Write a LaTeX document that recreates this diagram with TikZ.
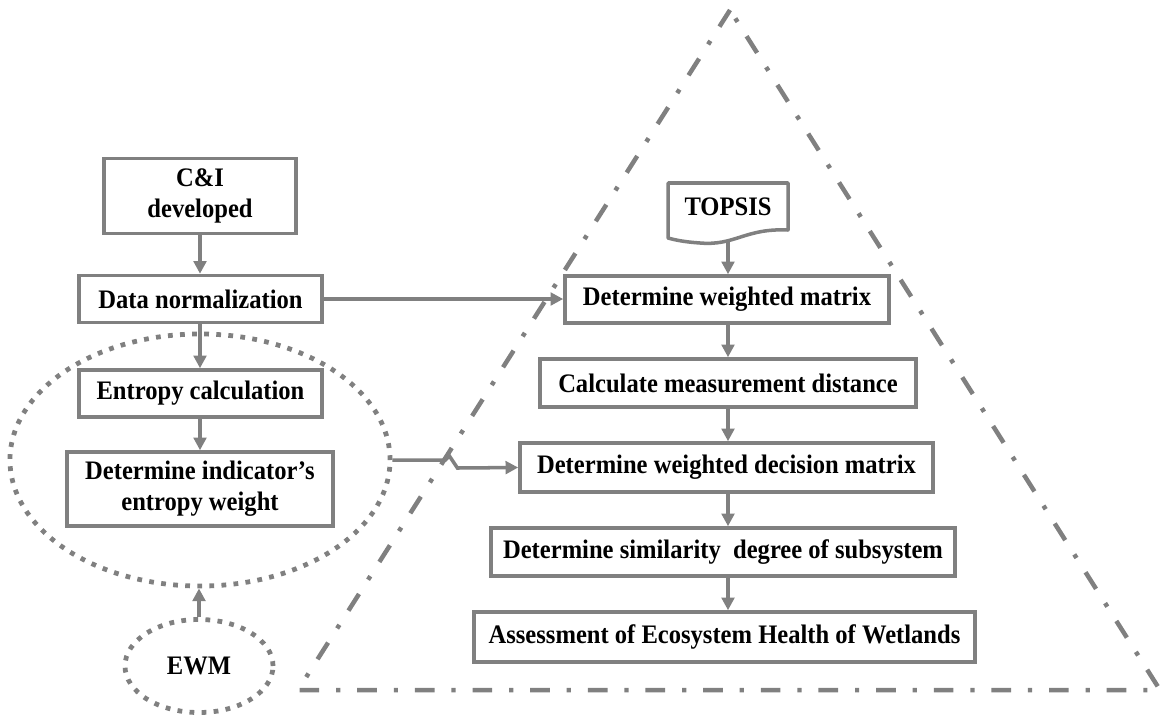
\documentclass[tikz,border=0pt]{standalone}
\usepackage{fontspec}
\setmainfont{Liberation Serif}
\newfontfamily\boxfont[FakeStretch=0.92]{Liberation Serif}
\usetikzlibrary{arrows.meta,shapes.geometric,calc}
\definecolor{lineg}{RGB}{128,128,128}
\tikzset{
  boxtext/.style={font=\boxfont\fontsize{19}{22}\selectfont\bfseries, text=black},
  stepbox/.style={draw=lineg, line width=2.5pt, rectangle, inner sep=0pt, align=center, boxtext},
  flow/.style={draw=lineg, line width=2.5pt, -{Triangle[length=9pt,width=9pt]}},
  dotring/.style={draw=lineg, line width=3.4pt, ellipse, inner sep=0pt,
    dash pattern=on 3.4pt off 5.2pt},
  frame/.style={draw=lineg, line width=3.2pt, dash pattern=on 14pt off 12pt on 3pt off 12pt}
}
\begin{document}
\begin{tikzpicture}[x=0.025cm,y=-0.025cm]
\useasboundingbox (0,0) rectangle (1162,717);

% TOPSIS triangle frame
\coordinate (apex) at (730,10);
\coordinate (bl) at (298,690);
\coordinate (br) at (1160,690);
\draw[frame] (apex) -- (bl) -- (br) -- cycle;

% EWM side
\node[stepbox, minimum width=4.8cm, minimum height=1.875cm] (ci) at (200,196) {C\&I\\developed};
\node[stepbox, minimum width=6.075cm, minimum height=1.175cm] (dn) at (200.5,299) {Data normalization};
\node[stepbox, minimum width=6.075cm, minimum height=1.175cm] (ec) at (200.5,393.5) {Entropy calculation};
\node[stepbox, minimum width=6.65cm, minimum height=1.85cm] (det) at (200,489) {Determine indicator’s\\entropy weight};
\node[dotring, minimum width=9.5cm, minimum height=6.3cm] (ring) at (200,460) {};
\node[dotring, minimum width=3.7cm, minimum height=2.325cm, boxtext] (ewm) at (199,666) {EWM};

% TOPSIS side
\node[boxtext] (topsis) at (728,207) {TOPSIS};
\draw[draw=lineg, line width=2.5pt, line join=round]
  (668,238) -- (668,183) -- (788,183) -- (788,230)
  .. controls (745,228) and (735,246) .. (700,243)
  .. controls (685,242) and (675,240) .. cycle;
\coordinate (tbot) at (728,241);

\node[stepbox, minimum width=8.1cm, minimum height=1.175cm] (wm) at (727,299.5) {Determine weighted matrix};
\node[stepbox, minimum width=9.4cm, minimum height=1.2cm] (cmd) at (728,383) {Calculate measurement distance};
\node[stepbox, minimum width=10.325cm, minimum height=1.225cm] (wdm) at (726.5,467.5) {Determine weighted decision matrix};
\node[stepbox, minimum width=11.6cm, minimum height=1.2cm] (sim) at (723,552) {Determine similarity~ degree of subsystem};
\node[stepbox, minimum width=12.525cm, minimum height=1.25cm] (ass) at (724.5,637) {Assessment of Ecosystem Health of Wetlands};

% connectors
\draw[flow] (ci.south) -- (ci.south |- dn.north);
\draw[flow] (ci.south |- dn.south) -- (ci.south |- ec.north);
\draw[flow] (ci.south |- ec.south) -- (ci.south |- det.north);
\draw[flow] (ewm.north) -- (ewm.north |- ring.south);
\draw[flow] (dn.east) -- (dn.east -| wm.west);
\draw[flow] (tbot) -- (tbot |- wm.north);
\draw[flow] (wm.south -| tbot) -- (tbot |- cmd.north);
\draw[flow] (cmd.south -| tbot) -- (tbot |- wdm.north);
\draw[flow] (wdm.south -| tbot) -- (tbot |- sim.north);
\draw[flow] (sim.south -| tbot) -- (tbot |- ass.north);
\draw[flow] (ring.east) -- ++(53,0) -- ++(4,-4) -- ++(8,12) -- (wdm.west);
\end{tikzpicture}
\end{document}
